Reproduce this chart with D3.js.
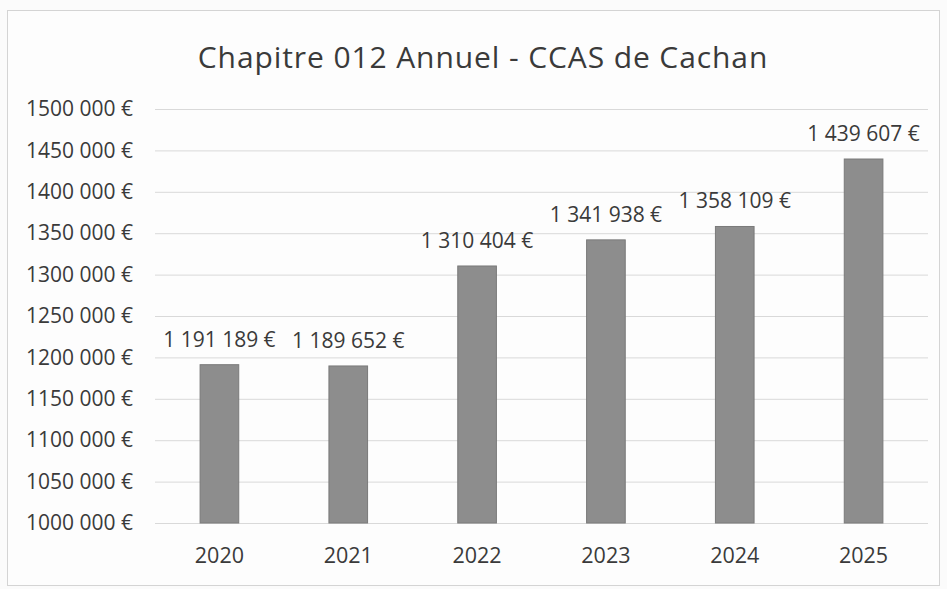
<!DOCTYPE html>
<html>
<head>
<meta charset="utf-8">
<script src="https://cdn.jsdelivr.net/npm/d3@7"></script>
<style>
  body { margin: 0; background: #fbfbfb; }
  svg text { font-family: "Open Sans", sans-serif; fill: #3a3a3a; }
</style>
</head>
<body>
<div id="chart"></div>
<script>
// Chapitre 012 - CCAS de Cachan
var years = ["2020", "2021", "2022", "2023", "2024", "2025"];
var amounts = [1191189, 1189652, 1310404, 1341938, 1358109, 1439607];
var yTicks = [1000000, 1050000, 1100000, 1150000, 1200000, 1250000, 1300000, 1350000, 1400000, 1450000, 1500000];
var yTickLabels = ["1000 000 €", "1050 000 €", "1100 000 €", "1150 000 €", "1200 000 €", "1250 000 €",
                   "1300 000 €", "1350 000 €", "1400 000 €", "1450 000 €", "1500 000 €"];
var title = "Chapitre 012 Annuel - CCAS de Cachan";

var svgWidth = 947;
var svgHeight = 589;

var plot = { left: 155, right: 928, top: 109, bottom: 523 };

var svg = d3.select("#chart")
    .append("svg")
    .attr("width", svgWidth)
    .attr("height", svgHeight);

// chart frame
svg.append("rect")
    .attr("x", 7.5)
    .attr("y", 10.5)
    .attr("width", 932)
    .attr("height", 575)
    .attr("fill", "#fdfdfd")
    .attr("stroke", "#d4d4d4");

var fr = d3.formatLocale({ decimal: ",", thousands: "\u00a0", grouping: [3], currency: ["", "\u00a0€"] });
var money = fr.format("$,.0f");

var x = d3.scaleBand()
    .domain(years)
    .range([plot.left, plot.right])
    .paddingInner(0.7)
    .paddingOuter(0.35);

var y = d3.scaleLinear()
    .domain([1000000, 1500000])
    .range([plot.bottom, plot.top]);

// gridlines + y labels
var yAxis = d3.axisLeft(y)
    .tickValues(yTicks)
    .tickSize(-(plot.right - plot.left))
    .tickPadding(22)
    .tickFormat(function (d, i) { return yTickLabels[i]; });

var yG = svg.append("g")
    .attr("transform", `translate(${plot.left},0)`)
    .call(yAxis);
yG.select(".domain").remove();
yG.selectAll(".tick line").attr("stroke", "#d9d9d9");
yG.selectAll(".tick text")
    .style("font-size", "21px")
    .attr("fill", "#3a3a3a");

// x labels
var xAxis = d3.axisBottom(x).tickSize(0).tickPadding(25);
var xG = svg.append("g")
    .attr("transform", `translate(0,${plot.bottom})`)
    .call(xAxis);
xG.select(".domain").remove();
xG.selectAll(".tick text")
    .style("font-size", "21.5px")
    .attr("fill", "#3a3a3a");

// bars
svg.selectAll(".bar")
    .data(amounts)
    .enter()
    .append("rect")
    .attr("class", "bar")
    .attr("x", (d, i) => x(years[i]))
    .attr("y", d => y(d))
    .attr("width", x.bandwidth())
    .attr("height", d => y(1000000) - y(d))
    .attr("fill", "#8d8d8d")
    .attr("stroke", "#7a7a7a")
    .attr("stroke-width", 1);

// value labels
svg.selectAll(".val")
    .data(amounts)
    .enter()
    .append("text")
    .attr("class", "val")
    .attr("x", (d, i) => x(years[i]) + x.bandwidth() / 2)
    .attr("y", d => y(d) - 18)
    .attr("text-anchor", "middle")
    .style("font-size", "21px")
    .text(d => money(d));

// title
svg.append("text")
    .attr("x", 483)
    .attr("y", 68)
    .attr("text-anchor", "middle")
    .style("font-size", "30px")
    .style("letter-spacing", "0.9px")
    .text(title);
</script>
</body>
</html>
